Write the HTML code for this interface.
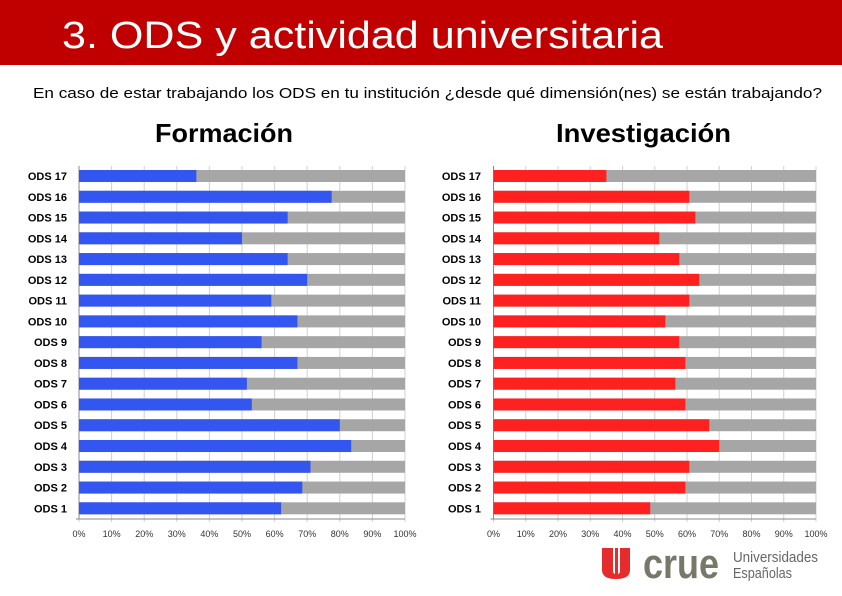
<!DOCTYPE html>
<html><head><meta charset="utf-8"><style>
html,body{margin:0;padding:0;background:#fff;width:842px;height:596px;overflow:hidden}
svg text{font-family:"Liberation Sans",sans-serif}
</style></head><body>
<svg id="root" width="842" height="596" viewBox="0 0 842 596">
<rect x="0" y="0" width="842" height="65" fill="#c00000"/>
<text x="62" y="48" font-size="38" fill="#fff" textLength="601" lengthAdjust="spacingAndGlyphs">3. ODS y actividad universitaria</text>
<text x="33" y="98" font-size="15" fill="#000" textLength="789" lengthAdjust="spacingAndGlyphs">En caso de estar trabajando los ODS en tu institución ¿desde qué dimensión(nes) se están trabajando?</text>
<text x="155" y="142" font-size="26" font-weight="bold" fill="#000" textLength="138" lengthAdjust="spacingAndGlyphs">Formación</text>
<text x="556" y="142" font-size="26" font-weight="bold" fill="#000" textLength="175" lengthAdjust="spacingAndGlyphs">Investigación</text>
<g id="chartL"></g>
<g id="chartR"></g>
<g>
<path d="M602 548h11v22q0 4 2 4v-26h3v26q2 0 2-4v-22h10v22q0 9-14 9q-14 0-14-9z" fill="#e52b2b"/>
<text x="643" y="578" font-size="42" font-weight="bold" fill="#77776a" textLength="76" lengthAdjust="spacingAndGlyphs">crue</text>
<text x="733" y="562" font-size="15" fill="#666" textLength="85" lengthAdjust="spacingAndGlyphs">Universidades</text>
<text x="733" y="578" font-size="15" fill="#666" textLength="59" lengthAdjust="spacingAndGlyphs">Españolas</text>
</g>
</svg>
<script>
const categories=["ODS 17","ODS 16","ODS 15","ODS 14","ODS 13","ODS 12","ODS 11","ODS 10","ODS 9","ODS 8","ODS 7","ODS 6","ODS 5","ODS 4","ODS 3","ODS 2","ODS 1"];
const formacionValues=[36,77.5,64,50,64,70,59,67,56,67,51.5,53,80,83.5,71,68.5,62];
const investigacionValues=[35,60.7,62.6,51.4,57.6,63.8,60.7,53.3,57.6,59.5,56.4,59.5,66.9,70,60.7,59.5,48.6];
const tickLabels=["0%","10%","20%","30%","40%","50%","60%","70%","80%","90%","100%"];
const tickValues=[0,10,20,30,40,50,60,70,80,90,100];
const NS="http://www.w3.org/2000/svg";
function mk(tag,attrs,parent){const e=document.createElementNS(NS,tag);for(const k in attrs)e.setAttribute(k,attrs[k]);parent.appendChild(e);return e;}
function draw(g,x0,x1,labelX,values,color,prefix){
  const yTop=166,y0=176,step=20.77,bh=12;
  const xs=v=>x0+(x1-x0)*v/100;
  const ys=i=>y0+i*step;
  tickValues.forEach((t,i)=>{
    const l=mk('line',{x1:xs(t),x2:xs(t),y1:yTop,y2:522,stroke:'#d0d0d0','stroke-width':1},g);
    
    
    const tx=mk('text',{x:xs(t),y:537,'font-size':9,'text-anchor':'middle',fill:'#333'},g);
    tx.textContent=tickLabels[i];
    
    
  });
  const ax=mk('line',{x1:x0,x2:x0,y1:yTop,y2:519,stroke:'#888','stroke-width':1},g);
  
  
  const bx=mk('line',{x1:x0-3,x2:x1,y1:519,y2:519,stroke:'#888','stroke-width':1},g);
  
  
  categories.forEach((c,i)=>{
    const y=ys(i);
    const bg=mk('rect',{x:xs(0),y:y-bh/2,width:xs(100)-xs(0),height:bh,fill:'#a6a6a6'},g);
    
    
    const b=mk('rect',{x:xs(0),y:y-bh/2,width:xs(values[i])-xs(0),height:bh,fill:color},g);
    
    
    const t=mk('text',{x:labelX,y:y+4,'font-size':11,'font-weight':'bold','text-anchor':'end',fill:'#000'},g);
    t.textContent=c;
    
    
  });
}
draw(document.getElementById('chartL'),79,405,67,formacionValues,'#3355f0','formacion');
draw(document.getElementById('chartR'),493.5,816,481,investigacionValues,'#ff2020','investigacion');
</script>
</body></html>
